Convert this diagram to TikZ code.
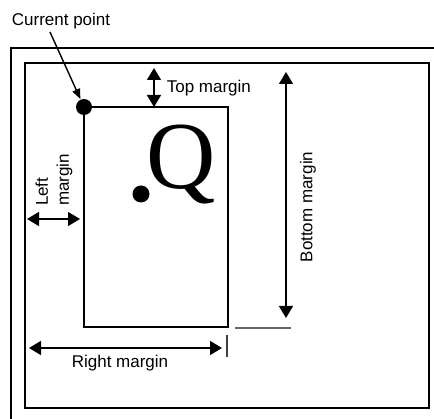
\documentclass[tikz,border=0pt]{standalone}
\usepackage{fontspec}
\setmainfont{Liberation Sans}
\newfontfamily\qfont{Liberation Serif}
\usetikzlibrary{arrows.meta}

\begin{document}
\begin{tikzpicture}[x=1pt,y=-1pt,line width=1.6pt]
	\useasboundingbox (0,0) rectangle (434,419);
	\draw (11,419) -- (11,48) -- (434,48);
	\draw (25,63) rectangle (429,408);
	\draw (84,107) rectangle (228,327);
	\begin{scope}[every node/.style={circle,fill,inner sep=0pt}]
		\node[minimum size=16pt] (cur) at (84,107) {};
		\node[minimum size=17pt] (dot) at (141,194) {};
	\end{scope}
	\node[inner sep=0pt,anchor=base,font=\qfont\fontsize{96}{96}\selectfont] (q) at (181,189) {Q};

	\begin{scope}[every node/.style={font=\fontsize{17}{21}\selectfont,inner sep=0pt}]
		\node (curlbl) at (61,21) {Current point};
		\node[anchor=west] (toplbl) at (166,88) {Top margin};
		\node[rotate=90] (botlbl) at (308,207) {Bottom margin};
		\node[rotate=90,align=left] (leftlbl) at (54,180) {Left\\margin};
		\node (rightlbl) at (120,363) {Right margin};
	\end{scope}

	\coordinate (cp) at (50,32);
	\coordinate (t1) at (154,68);
	\coordinate (t2) at (154,107);
	\coordinate (b1) at (286,72);
	\coordinate (b2) at (286,318);
	\coordinate (l1) at (27,219);
	\coordinate (l2) at (80,219);
	\coordinate (r1) at (29,348);
	\coordinate (r2) at (222,348);
	\coordinate (g1) at (235,328);
	\coordinate (g2) at (291,328);
	\coordinate (k1) at (227,335);
	\coordinate (k2) at (227,357);

	\begin{scope}[>={Triangle[length=12pt,width=14pt]},
	              every edge/.style={draw=black,line width=1.4pt}]
		\path (cp) edge[-{Triangle[length=10pt,width=8pt]}] (cur);
		\path (t1) edge[<->] (t2);
		\path (b1) edge[<->] (b2);
		\path (l1) edge[<->] (l2);
		\path (r1) edge[<->] (r2);
	\end{scope}
	\draw[gray!80!black,line width=1.4pt] (g1) -- (g2);
	\draw[black!75,line width=1.4pt] (k1) -- (k2);
\end{tikzpicture}
\end{document}
